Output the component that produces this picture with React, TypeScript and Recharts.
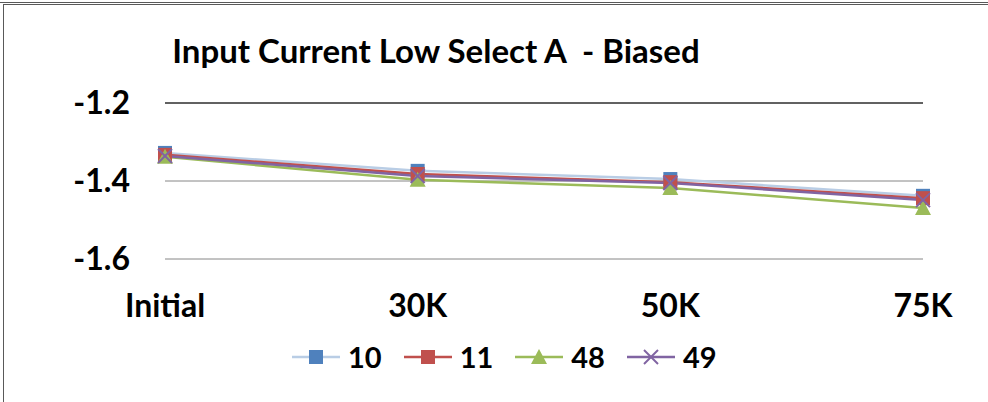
import { LineChart, Line, XAxis, YAxis, CartesianGrid, ReferenceLine } from "recharts";

const CATEGORIES = ["Initial", "30K", "50K", "75K"];
const S10 = [-1.328, -1.374, -1.395, -1.438];
const S11 = [-1.333, -1.382, -1.403, -1.444];
const S48 = [-1.338, -1.397, -1.418, -1.469];
const S49 = [-1.336, -1.387, -1.405, -1.449];
const Y_TICKS = [-1.6, -1.4, -1.2];

const data = CATEGORIES.map((c, i) => ({ cat: c, s10: S10[i], s11: S11[i], s48: S48[i], s49: S49[i] }));

const FONT = "Lato, 'Liberation Sans', sans-serif";
const SERIES = [
  { key: "s10", name: "10", line: "#B9CDE5", mark: "#4F81BD", shape: "square" },
  { key: "s11", name: "11", line: "#C0504D", mark: "#C0504D", shape: "square" },
  { key: "s48", name: "48", line: "#9BBB59", mark: "#9BBB59", shape: "triangle" },
  { key: "s49", name: "49", line: "#8064A2", mark: "#8064A2", shape: "x" },
];

function Marker({ cx, cy, shape, color }: { cx: number; cy: number; shape: string; color: string }) {
  if (shape === "square") return <rect x={cx - 7} y={cy - 7} width={14} height={14} fill={color} />;
  if (shape === "triangle") return <polygon points={`${cx},${cy - 8} ${cx + 8},${cy + 7} ${cx - 8},${cy + 7}`} fill={color} />;
  return (
    <g stroke={color} strokeWidth={2}>
      <line x1={cx - 7} y1={cy - 7} x2={cx + 7} y2={cy + 7} />
      <line x1={cx - 7} y1={cy + 7} x2={cx + 7} y2={cy - 7} />
    </g>
  );
}

function LegendBox() {
  return (
    <div style={{
      position: "absolute", left: 0, top: 340, width: 988, display: "flex", alignItems: "center",
      paddingLeft: 292, fontFamily: FONT, fontWeight: 700, fontSize: 29, color: "#000", lineHeight: "34px",
    }}>
      {SERIES.map((s) => (
        <div key={s.key} style={{ display: "flex", alignItems: "center", marginRight: 22 }}>
          <svg width={48} height={20}>
            <line x1={0} y1={10} x2={48} y2={10} stroke={s.line} strokeWidth={2.5} />
            <Marker cx={24} cy={10} shape={s.shape} color={s.mark} />
          </svg>
          <span style={{ marginLeft: 8 }}>{s.name}</span>
        </div>
      ))}
    </div>
  );
}

export default function App() {
  return (
    <div style={{ position: "absolute", left: 0, top: 0, width: 988, height: 402, background: "#fff", overflow: "hidden" }}>
      <div style={{ position: "absolute", left: 0, top: 2, width: 988, height: 0, borderTop: "1px solid #595959" }} />
      <div style={{ position: "absolute", left: 3, top: 4, width: 985, height: 0, borderTop: "1px solid #595959" }} />
      <div style={{ position: "absolute", left: 3, top: 4, width: 0, height: 398, borderLeft: "1px solid #595959" }} />
      <div style={{
        position: "absolute", left: 0, width: 872, top: 30, textAlign: "center",
        fontFamily: FONT, fontWeight: 700, fontSize: 33, color: "#000", lineHeight: "40px",
      }}>Input Current Low Select A&nbsp; - Biased</div>
      <div style={{ position: "absolute", left: 0, top: 0 }}>
        <LineChart width={988} height={402} data={data} margin={{ top: 103, right: 65, bottom: 113, left: 105 }}>
          <CartesianGrid vertical={false} stroke="#868686" strokeWidth={1} />
          <ReferenceLine y={-1.2} stroke="#000" strokeWidth={1} />
          <XAxis dataKey="cat" height={30} axisLine={false} tickLine={false} tickSize={0} tickMargin={35}
            tick={{ fontFamily: FONT, fontWeight: 700, fontSize: 32, fill: "#000" }} />
          <YAxis width={60} domain={[-1.6, -1.2]} ticks={Y_TICKS} axisLine={false} tickLine={false} tickSize={0} tickMargin={35}
            tickFormatter={(v: number) => v.toFixed(1)}
            tick={{ fontFamily: FONT, fontWeight: 700, fontSize: 32, fill: "#000" }} />
          {SERIES.map((s) => (
            <Line key={s.key} dataKey={s.key} name={s.name} type="linear" stroke={s.line} strokeWidth={2.5}
              isAnimationActive={false}
              dot={(p: any) => <Marker key={`${s.key}-${p.index}`} cx={p.cx} cy={p.cy} shape={s.shape} color={s.mark} />}
              activeDot={false} />
          ))}
        </LineChart>
      </div>
      <LegendBox />
    </div>
  );
}
